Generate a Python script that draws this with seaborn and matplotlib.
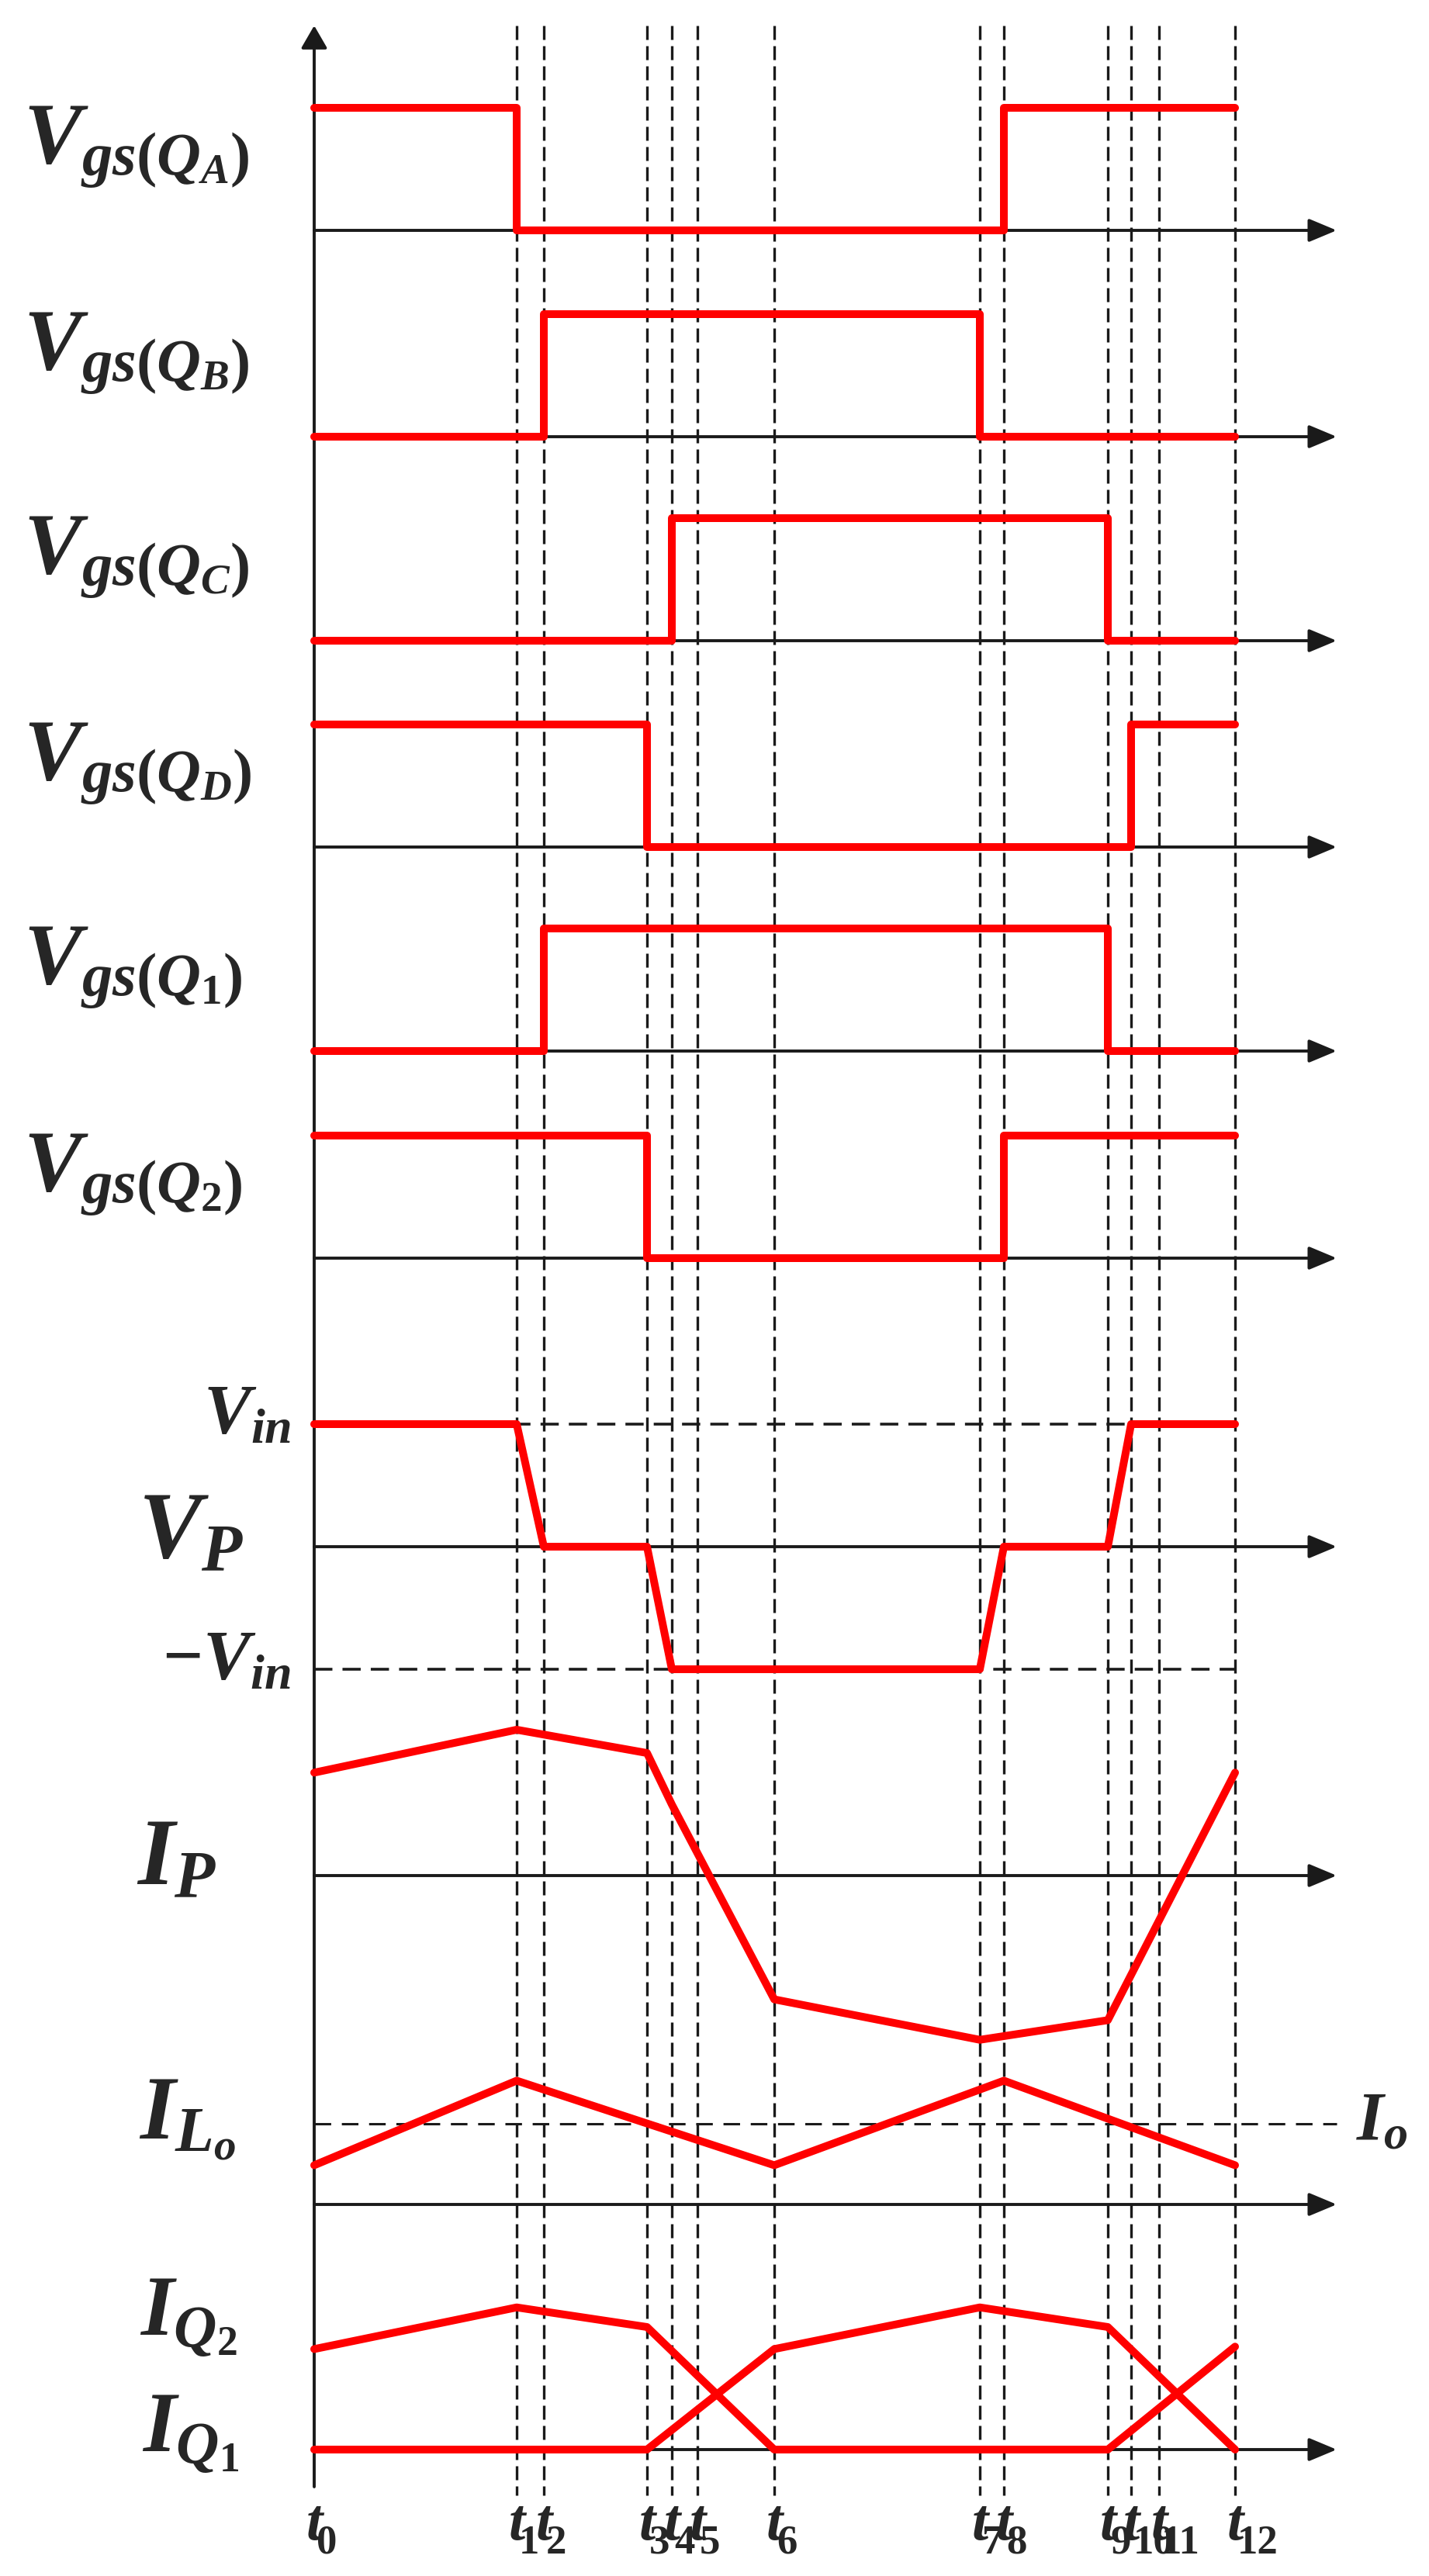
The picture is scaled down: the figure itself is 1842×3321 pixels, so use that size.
import matplotlib
matplotlib.use("Agg")
import matplotlib.pyplot as plt
import seaborn as sns

# switching instants t0 .. t12 (time axis units)
t_vals = [0, 26.1, 29.6, 42.9, 46.1, 49.4, 59.3, 85.8, 88.9, 102.3, 105.3, 108.9, 118.7]
t_names = [str(i) for i in range(13)]

# gate drive signals: level held from t_k to t_k+1
vgs_qa = [1, 0, 0, 0, 0, 0, 0, 0, 1, 1, 1, 1, 1]
vgs_qb = [0, 0, 1, 1, 1, 1, 1, 0, 0, 0, 0, 0, 0]
vgs_qc = [0, 0, 0, 0, 1, 1, 1, 1, 1, 0, 0, 0, 0]
vgs_qd = [1, 1, 1, 0, 0, 0, 0, 0, 0, 0, 1, 1, 1]
vgs_q1 = [0, 0, 1, 1, 1, 1, 1, 1, 1, 0, 0, 0, 0]
vgs_q2 = [1, 1, 1, 0, 0, 0, 0, 0, 1, 1, 1, 1, 1]
gate_labels = [r"$V_{gs(Q_A)}$", r"$V_{gs(Q_B)}$", r"$V_{gs(Q_C)}$",
               r"$V_{gs(Q_D)}$", r"$V_{gs(Q_1)}$", r"$V_{gs(Q_2)}$"]

# primary voltage (units of Vin) at t0 .. t12
vp = [1, 1, 0, 0, -1, -1, -1, -1, 0, 0, 1, 1, 1]

# primary current: vertex index -> value
ip_idx = [0, 1, 3, 4, 6, 7, 9, 12]
ip_val = [0.84, 1.19, 1.0, 0.58, -1.01, -1.34, -1.18, 0.84]

# output inductor current
ilo_idx = [0, 1, 6, 8, 12]
ilo_val = [0.32, 1.01, 0.32, 1.01, 0.32]
io_level = 0.66

# rectifier currents
iq2_idx = [0, 1, 3, 6, 9, 12]
iq2_val = [0.82, 1.16, 1.0, 0, 0, 0.84]
iq1_idx = [0, 3, 6, 7, 9, 12]
iq1_val = [0, 0, 0.82, 1.16, 1.0, 0]

# layout (pixel rows from the top of the figure)
AMP = 158
gate_base = [297, 563, 826, 1092, 1355, 1622]
vp_base, ip_base, ilo_base, iq_base = 1994, 2418, 2842, 3158
X_END = 131.8


def px(x):
    return (x - 405) / 10


sns.set_theme(style="white")
plt.rcParams["font.family"] = ["Liberation Serif", "DejaVu Serif"]
plt.rcParams["mathtext.fontset"] = "custom"
plt.rcParams["mathtext.it"] = "Liberation Serif:italic:bold"
plt.rcParams["mathtext.rm"] = "Liberation Serif:bold"
plt.rcParams["mathtext.bf"] = "Liberation Serif:bold"

fig = plt.figure(figsize=(18.42, 33.21), dpi=100)
ax = fig.add_axes([0, 0, 1, 1])
ax.set_xlim(-40.5, 143.7)
ax.set_ylim(3321, 0)
ax.axis("off")

red = dict(color="#ff0000", lw=7.2, solid_capstyle="round",
           solid_joinstyle="round", zorder=5, estimator=None, ax=ax)
arrow = dict(arrowstyle="-|>,head_length=0.55,head_width=0.23",
             mutation_scale=40, lw=2.8, color="k", shrinkA=0, shrinkB=0)

# dashed time markers
ax.vlines(t_vals[1:], 33, 3217, colors="k", lw=2.4,
          linestyles=(0, (5.4, 2.4)), zorder=2)

# time axis arrows
for b in gate_base + [vp_base, ip_base, ilo_base, iq_base]:
    ax.annotate("", xy=(X_END, b), xytext=(0, b), arrowprops=arrow, zorder=3)
ax.annotate("", xy=(0, 33), xytext=(0, 3206), zorder=3,
            arrowprops=dict(arrow, arrowstyle="-|>,head_length=0.45,head_width=0.26"))

# gate signals
gates = [vgs_qa, vgs_qb, vgs_qc, vgs_qd, vgs_q1, vgs_q2]
for levels, base, lab in zip(gates, gate_base, gate_labels):
    sns.lineplot(x=t_vals, y=[base - v * AMP for v in levels],
                 drawstyle="steps-post", **red)
    ax.text(px(30), base - AMP + 71, lab, fontsize=81, ha="left", va="baseline")

# primary voltage
ax.hlines([vp_base - AMP, vp_base + AMP], 0, t_vals[-1], colors="k", lw=2.6,
          linestyles=(0, (6.5, 3.6)), zorder=2)
sns.lineplot(x=t_vals, y=[vp_base - v * AMP for v in vp], **red)
ax.text(px(178), vp_base + 14, r"$V_P$", fontsize=88, ha="left", va="baseline")
ax.text(px(375), vp_base - AMP + 11, r"$V_{in}$", fontsize=66, ha="right", va="baseline")
ax.text(px(375), vp_base + AMP + 12, r"$-V_{in}$", fontsize=66, ha="right", va="baseline")

# primary current
sns.lineplot(x=[t_vals[i] for i in ip_idx],
             y=[ip_base - v * AMP for v in ip_val], **red)
ax.text(px(176), ip_base + 11, r"$I_P$", fontsize=88, ha="left", va="baseline")

# output inductor current
ax.hlines(ilo_base - io_level * AMP, 0, X_END, colors="k", lw=2.2,
          linestyles=(0, (7, 4.5)), zorder=2)
sns.lineplot(x=[t_vals[i] for i in ilo_idx],
             y=[ilo_base - v * AMP for v in ilo_val], **red)
ax.text(px(179), ilo_base - 84, r"$I_{L_o}$", fontsize=84, ha="left", va="baseline")
ax.text(px(1748), ilo_base - 84, r"$I_o$", fontsize=64, ha="left", va="baseline")

# rectifier currents
sns.lineplot(x=[t_vals[i] for i in iq2_idx],
             y=[iq_base - v * AMP for v in iq2_val], **red)
sns.lineplot(x=[t_vals[i] for i in iq1_idx],
             y=[iq_base - v * AMP for v in iq1_val], **red)
ax.text(px(180), iq_base - 147, r"$I_{Q_2}$", fontsize=79, ha="left", va="baseline")
ax.text(px(183), iq_base + 3, r"$I_{Q_1}$", fontsize=79, ha="left", va="baseline")

# time labels
for t, n in zip(t_vals, t_names):
    ax.text(t, 3274, "t", fontsize=55, style="italic", weight="bold",
            ha="center", va="baseline")
    ax.text(t + 0.3, 3292, n, fontsize=38, weight="bold",
            ha="left", va="baseline")

ax.set_xlim(-40.5, 143.7)
ax.set_ylim(3321, 0)
fig.savefig("out.png", dpi=100, facecolor="white")
